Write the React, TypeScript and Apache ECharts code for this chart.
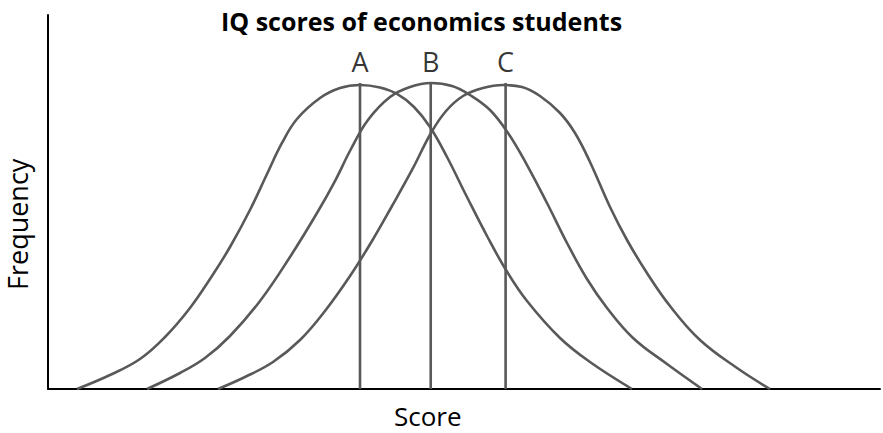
import React, { useEffect, useRef } from "react";
import * as echarts from "echarts";

// Frequency curves for the three student groups: [score, frequency]
const curveA: [number, number][] = [
  [4.18, 0], [8.94, 3.74], [13.27, 8.02], [16.88, 13.9], [20.48, 21.66], [23.65, 30.21],
  [26.25, 37.97], [29.13, 47.86], [31.59, 57.49], [33.75, 65.78], [35.91, 72.19],
  [39.23, 77.81], [42.12, 80.48], [45.0, 81.28], [47.88, 80.61], [50.34, 78.88],
  [52.79, 75.4], [55.1, 70.05], [57.55, 62.03], [60.43, 51.34], [63.32, 40.91],
  [66.06, 31.82], [69.09, 23.53], [73.85, 13.64], [78.17, 7.22], [84.23, 0],
];
const curveB: [number, number][] = [
  [14.28, 0], [19.04, 4.28], [22.64, 8.29], [26.25, 14.17], [30.58, 23.53], [34.9, 35.29],
  [38.8, 47.06], [41.39, 55.61], [43.7, 64.17], [46.15, 71.93], [49.33, 78.07],
  [52.21, 80.75], [55.24, 81.82], [58.27, 81.02], [60.87, 78.61], [63.75, 74.6],
  [66.35, 68.45], [69.09, 59.89], [71.97, 49.73], [74.86, 39.04], [77.74, 29.41],
  [80.63, 21.66], [84.38, 13.64], [89.28, 6.68], [94.33, 0],
];
const curveC: [number, number][] = [
  [24.52, 0], [28.41, 3.21], [32.45, 7.22], [36.35, 13.1], [39.95, 20.86], [43.56, 30.21],
  [46.73, 39.57], [49.62, 48.93], [52.5, 58.56], [55.24, 68.45], [57.41, 74.33],
  [59.86, 78.34], [62.74, 80.48], [65.63, 81.28], [68.37, 80.75], [70.96, 78.34],
  [73.85, 73.8], [76.01, 68.45], [78.17, 60.7], [81.06, 48.66], [83.51, 39.84],
  [86.39, 31.02], [89.71, 22.19], [94.04, 13.1], [99.38, 5.61], [104.13, 0],
];

// Group means marked by vertical lines
const groupNames = ["A", "B", "C"];
const groupMeans = [45.0, 55.2, 66.0];
const meanLineTop = 81.8;

const TITLE = "IQ scores of economics students";
const X_NAME = "Score";
const Y_NAME = "Frequency";

const INK = "#595959";
const FONT = "'Open Sans', 'Liberation Sans', sans-serif";

export default function App() {
  const ref = useRef<HTMLDivElement>(null);

  useEffect(() => {
    if (!ref.current) return;
    const chart = echarts.init(ref.current, undefined, { renderer: "svg" });

    const curveSeries = [curveA, curveB, curveC].map((data, i) => ({
      type: "line",
      name: groupNames[i],
      data,
      smooth: 0.4,
      symbol: "none",
      lineStyle: { color: INK, width: 2.6 },
      z: 2,
    }));

    const meanSeries = groupMeans.map((m, i) => ({
      type: "line",
      name: groupNames[i] + " mean",
      data: [
        [m, 0],
        [m, meanLineTop],
      ],
      symbol: "none",
      lineStyle: { color: INK, width: 2.6 },
      z: 3,
    }));

    // Letters above the mean lines
    const letterSeries = {
      type: "scatter",
      name: "groups",
      data: groupMeans.map((m, i) => ({ value: [m, meanLineTop], name: groupNames[i] })),
      symbolSize: 1,
      itemStyle: { color: "rgba(0,0,0,0)" },
      label: {
        show: true,
        position: "top",
        distance: 8,
        formatter: "{b}",
        color: "#000",
        fontSize: 27,
        fontFamily: FONT,
      },
      silent: true,
      z: 4,
    };

    chart.setOption({
      animation: false,
      backgroundColor: "#ffffff",
      title: {
        text: TITLE,
        left: 216,
        top: 3,
        textStyle: {
          fontFamily: FONT,
          fontWeight: "bold",
          fontSize: 25,
          color: "#000",
        },
      },
      grid: { left: 48, right: 3, top: 15, bottom: 44 },
      xAxis: {
        type: "value",
        min: 0,
        max: 120,
        axisLine: { show: true, lineStyle: { color: "#000", width: 2 } },
        axisTick: { show: false },
        axisLabel: { show: false },
        splitLine: { show: false },
      },
      yAxis: {
        type: "value",
        min: 0,
        max: 100,
        axisLine: { show: true, lineStyle: { color: "#000", width: 2 } },
        axisTick: { show: false },
        axisLabel: { show: false },
        splitLine: { show: false },
      },
      graphic: [
        {
          type: "text",
          left: 394,
          top: 403,
          style: {
            text: X_NAME,
            fontFamily: FONT,
            fontSize: 26,
            fill: "#000",
          },
        },
        {
          type: "text",
          x: 4,
          y: 290,
          rotation: Math.PI / 2,
          style: {
            text: Y_NAME,
            fontFamily: FONT,
            fontSize: 27,
            fill: "#000",
            textVerticalAlign: "top",
          },
        },
      ],
      series: [...curveSeries, ...meanSeries, letterSeries],
    });

    return () => chart.dispose();
  }, []);

  return (
    <div
      ref={ref}
      style={{ position: "fixed", left: 0, top: 0, width: 883, height: 433 }}
    />
  );
}
